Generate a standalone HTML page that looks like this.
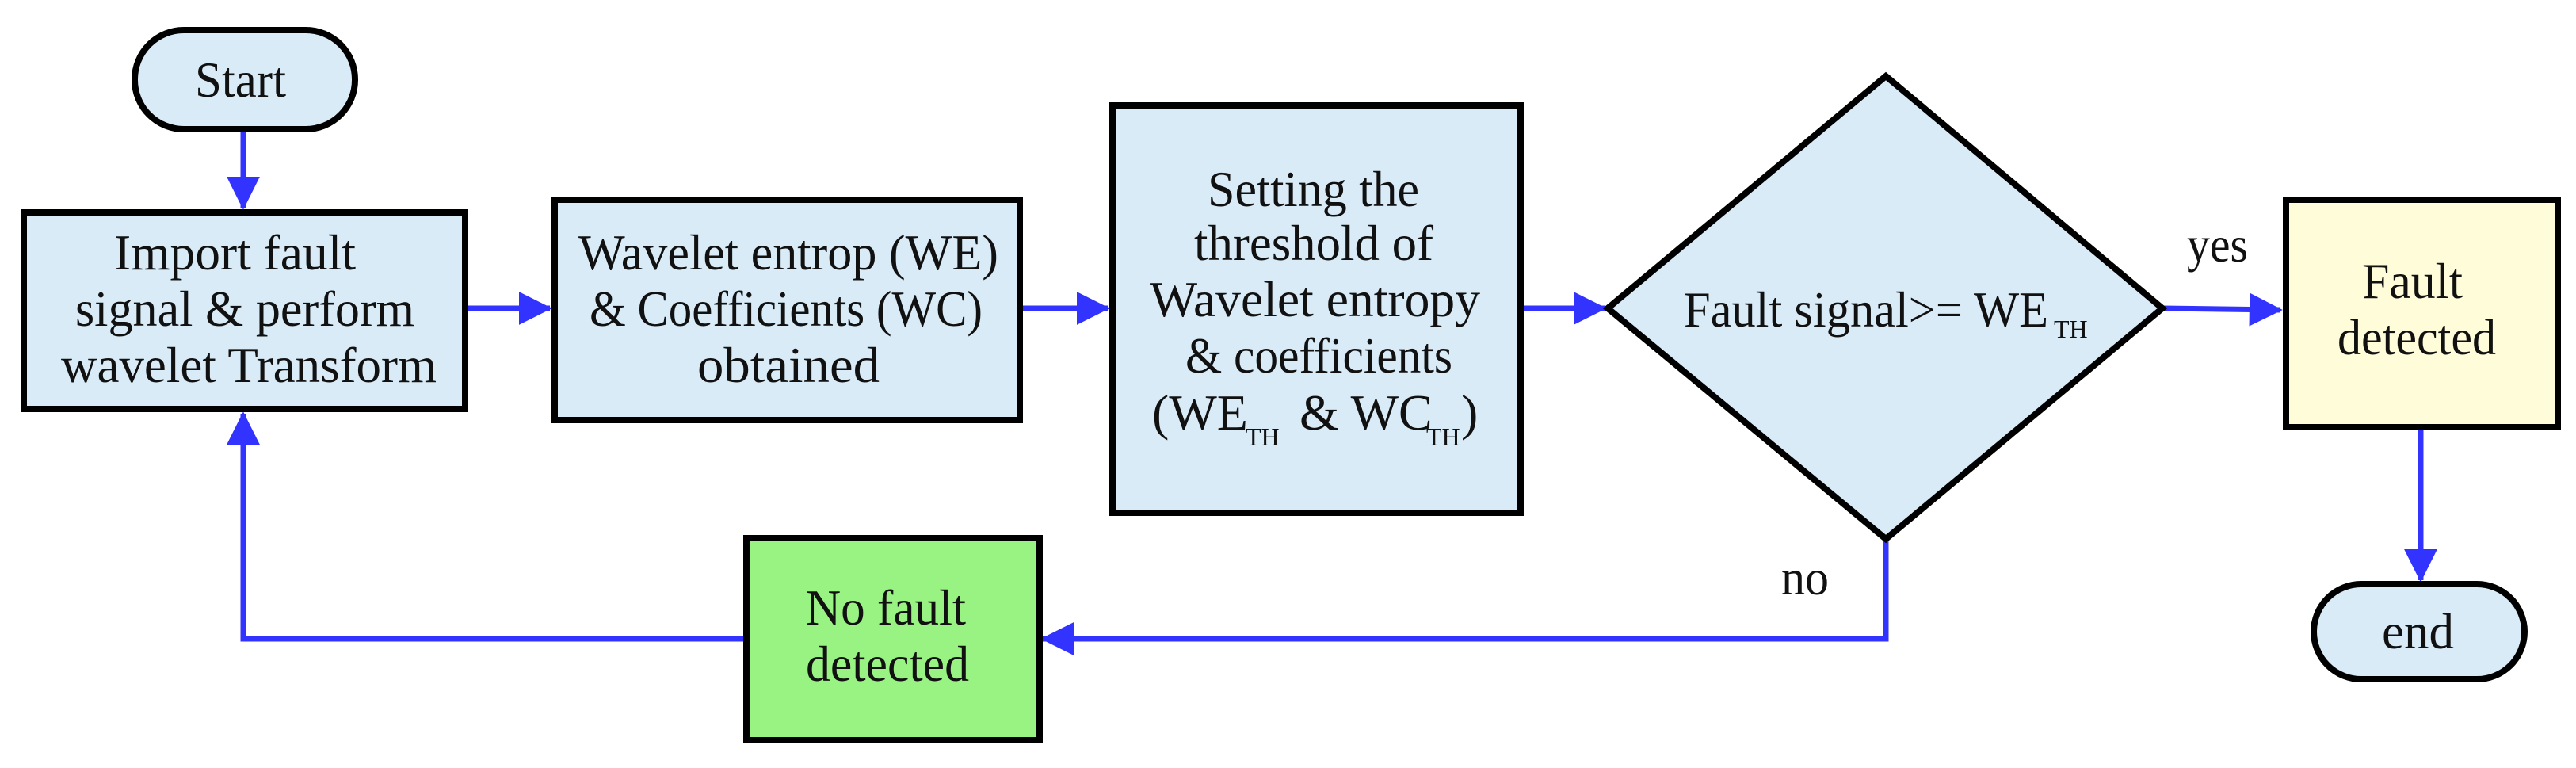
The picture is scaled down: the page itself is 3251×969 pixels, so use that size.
<!DOCTYPE html>
<html><head><meta charset="utf-8"><style>
html,body{margin:0;padding:0;background:#fff;}
svg{display:block;}
text{font-family:"Liberation Serif",serif;font-size:64px;fill:#111;}
</style></head><body>
<svg width="3251" height="969" viewBox="0 0 3251 969" xmlns="http://www.w3.org/2000/svg">
<defs>
<marker id="ah" markerWidth="6" markerHeight="6" refX="5.6" refY="3" orient="auto" markerUnits="strokeWidth">
<path d="M0,0 L6,3 L0,6 z" fill="#3333ff"/></marker>
</defs>
<g stroke="#3333ff" stroke-width="7" fill="none">
<line x1="307" y1="164" x2="307" y2="262" marker-end="url(#ah)"/>
<line x1="589" y1="389" x2="694" y2="389" marker-end="url(#ah)"/>
<line x1="1289" y1="389" x2="1398" y2="389" marker-end="url(#ah)"/>
<line x1="1921" y1="389" x2="2025" y2="389" marker-end="url(#ah)"/>
<line x1="2729" y1="389" x2="2878" y2="391" marker-end="url(#ah)"/>
<line x1="3055" y1="541" x2="3055" y2="732" marker-end="url(#ah)"/>
<polyline points="2380,680 2380,806 1316,806" marker-end="url(#ah)"/>
<polyline points="940,806 307,806 307,522" marker-end="url(#ah)"/>
</g>
<g stroke="#000" stroke-width="8">
<rect x="170" y="38" width="278" height="125" rx="62" fill="#d9ebf7"/>
<rect x="30" y="268" width="557" height="248" fill="#d9ebf7"/>
<rect x="700" y="252" width="587" height="278" fill="#d9ebf7"/>
<rect x="1404" y="133" width="515" height="514" fill="#d9ebf7"/>
<polygon points="2029,389 2380,96 2729,389 2380,680" fill="#d9ebf7" stroke-linejoin="miter"/>
<rect x="2885" y="252" width="343" height="287" fill="#fffcd9"/>
<rect x="2920" y="737" width="266" height="120" rx="60" fill="#d9ebf7"/>
<rect x="942" y="679" width="370" height="255" fill="#99f383"/>
</g>
<g>
<text x="246" y="122" textLength="115" lengthAdjust="spacingAndGlyphs">Start</text>
<text x="144" y="340" textLength="305" lengthAdjust="spacingAndGlyphs">Import fault</text>
<text x="95" y="411" textLength="428" lengthAdjust="spacingAndGlyphs">signal &amp; perform</text>
<text x="77" y="482" textLength="474" lengthAdjust="spacingAndGlyphs">wavelet Transform</text>
<text x="730" y="340" textLength="530" lengthAdjust="spacingAndGlyphs">Wavelet entrop (WE)</text>
<text x="744" y="411" textLength="496" lengthAdjust="spacingAndGlyphs">&amp; Coefficients (WC)</text>
<text x="880" y="482" textLength="230" lengthAdjust="spacingAndGlyphs">obtained</text>
<text x="1524" y="260" textLength="267" lengthAdjust="spacingAndGlyphs">Setting the</text>
<text x="1507" y="328" textLength="302" lengthAdjust="spacingAndGlyphs">threshold of</text>
<text x="1451" y="399" textLength="417" lengthAdjust="spacingAndGlyphs">Wavelet entropy</text>
<text x="1496" y="470" textLength="337" lengthAdjust="spacingAndGlyphs">&amp; coefficients</text>
<text x="1454" y="542">(WE</text>
<text x="1572" y="562" style="font-size:32px">TH</text>
<text x="1640" y="542">&amp; WC</text>
<text x="1800" y="562" style="font-size:32px">TH</text>
<text x="1844" y="542">)</text>
<text x="2125" y="412" textLength="460" lengthAdjust="spacingAndGlyphs">Fault signal&gt;= WE</text>
<text x="2592" y="426" style="font-size:32px">TH</text>
<text x="2760" y="330" textLength="77" lengthAdjust="spacingAndGlyphs">yes</text>
<text x="2248" y="750" textLength="60" lengthAdjust="spacingAndGlyphs">no</text>
<text x="2981" y="376" textLength="127" lengthAdjust="spacingAndGlyphs">Fault</text>
<text x="2950" y="447" textLength="200" lengthAdjust="spacingAndGlyphs">detected</text>
<text x="3006" y="818" textLength="91" lengthAdjust="spacingAndGlyphs">end</text>
<text x="1017" y="788" textLength="202" lengthAdjust="spacingAndGlyphs">No fault</text>
<text x="1017" y="859" textLength="206" lengthAdjust="spacingAndGlyphs">detected</text>
</g>
</svg>
</body></html>
